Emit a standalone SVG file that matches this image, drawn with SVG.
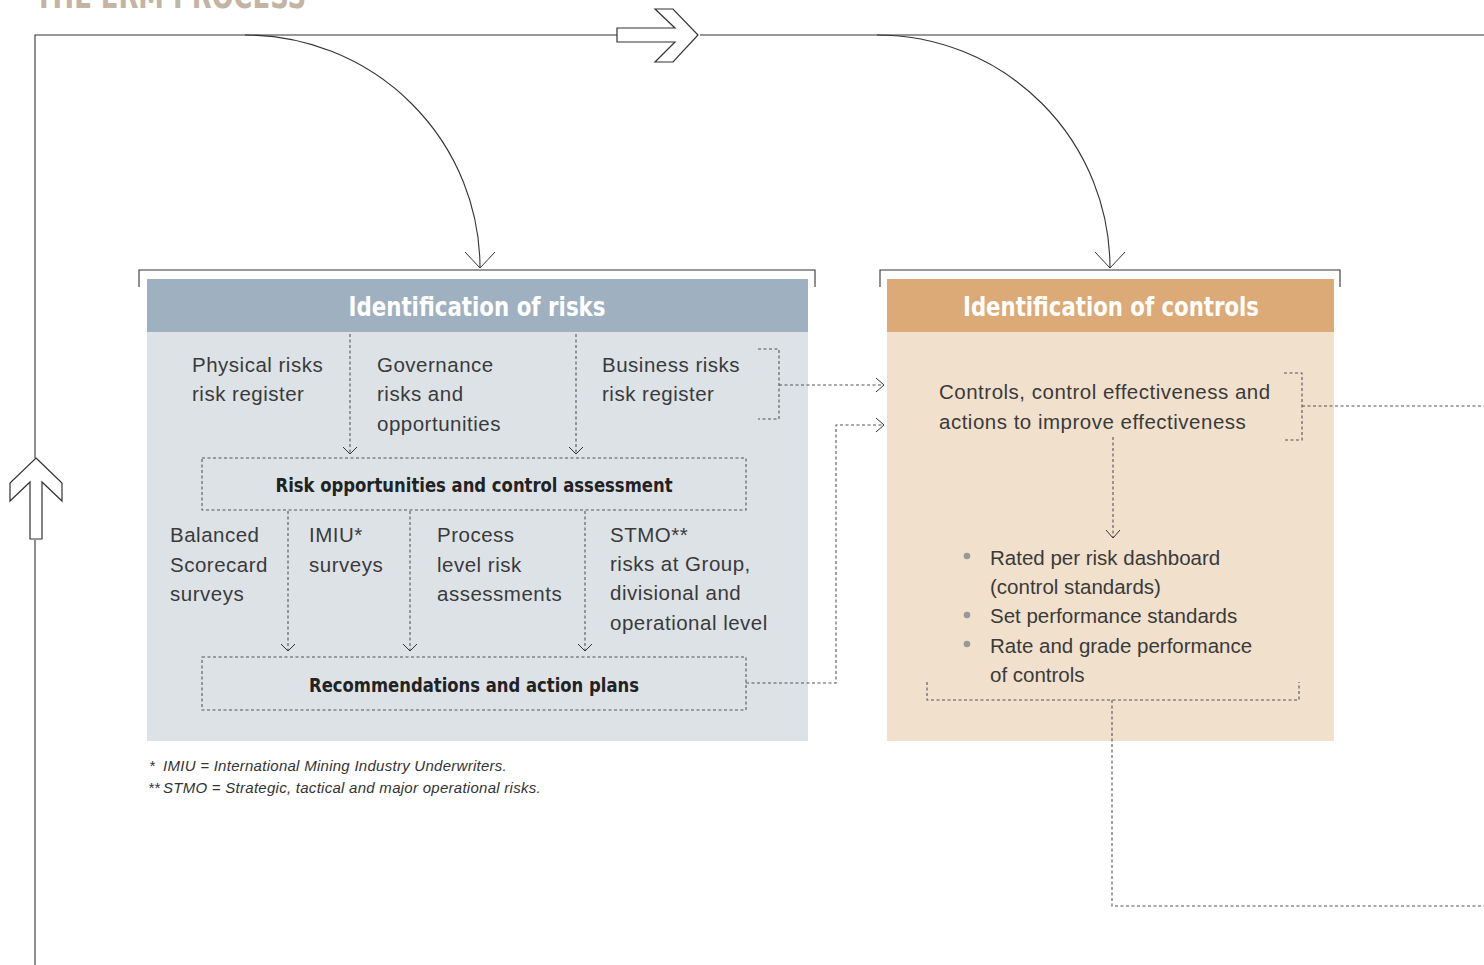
<svg xmlns="http://www.w3.org/2000/svg" width="1484" height="965" viewBox="0 0 1484 965">
<defs>
<style>
.ln{fill:none;stroke:#333;stroke-width:1.1}
.ds{fill:none;stroke:#555;stroke-width:1.1;stroke-dasharray:3 2.5}
.ah{fill:none;stroke:#333;stroke-width:1}
.big{fill:none;stroke:#333;stroke-width:1.2}
.hd{font-family:"DejaVu Sans Condensed","DejaVu Sans",sans-serif;font-weight:bold;fill:#fff;font-size:27px}
.bx{font-family:"DejaVu Sans Condensed","DejaVu Sans",sans-serif;font-weight:bold;fill:#222;font-size:20px}
.tx{font-family:"Liberation Sans",Arial,sans-serif;fill:#3a3a3a;font-size:20.5px;letter-spacing:0.5px}
.bl{font-family:"Liberation Sans",Arial,sans-serif;fill:#3a3a3a;font-size:20.5px;letter-spacing:0px}
.fn{font-family:"Liberation Sans",Arial,sans-serif;fill:#333;font-size:15px;font-style:italic;letter-spacing:0.27px}
</style>
</defs>
<rect width="1484" height="965" fill="#fff"/>
<text x="35" y="8" font-family="'DejaVu Sans Condensed','DejaVu Sans',sans-serif" font-weight="bold" font-size="36" fill="#c4b4a4" textLength="271" lengthAdjust="spacingAndGlyphs">THE ERM PROCESS</text>

<g id="risks">
<rect x="147" y="279" width="661" height="53" fill="#9fb1c1"/>
<rect x="147" y="332" width="661" height="409" fill="#dde2e7"/>
<text class="hd" x="477" y="316" text-anchor="middle" textLength="257" lengthAdjust="spacingAndGlyphs">Identification of risks</text>
<text class="tx" x="192" y="372">Physical risks</text>
<text class="tx" x="192" y="401">risk register</text>
<text class="tx" x="377" y="372">Governance</text>
<text class="tx" x="377" y="401">risks and</text>
<text class="tx" x="377" y="431">opportunities</text>
<text class="tx" x="602" y="372">Business risks</text>
<text class="tx" x="602" y="401">risk register</text>
<path class="ds" d="M350,334 V454 M576,334 V454"/>
<path class="ah" d="M343,447 L350,454 L357,447 M569,447 L576,454 L583,447"/>
<path class="ds" d="M758,349 H779 V419 H758"/>
<rect class="ds" x="202" y="458" width="544" height="52"/>
<text class="bx" x="474" y="492" text-anchor="middle" textLength="397" lengthAdjust="spacingAndGlyphs">Risk opportunities and control assessment</text>
<text class="tx" x="170" y="542">Balanced</text>
<text class="tx" x="170" y="572">Scorecard</text>
<text class="tx" x="170" y="601">surveys</text>
<text class="tx" x="309" y="542">IMIU*</text>
<text class="tx" x="309" y="572">surveys</text>
<text class="tx" x="437" y="542">Process</text>
<text class="tx" x="437" y="572">level risk</text>
<text class="tx" x="437" y="601">assessments</text>
<text class="tx" x="610" y="542">STMO**</text>
<text class="tx" x="610" y="571">risks at Group,</text>
<text class="tx" x="610" y="600">divisional and</text>
<text class="tx" x="610" y="630">operational level</text>
<path class="ds" d="M288,511 V651 M410,511 V651 M585,511 V651"/>
<path class="ah" d="M281,644 L288,651 L295,644 M403,644 L410,651 L417,644 M578,644 L585,651 L592,644"/>
<rect class="ds" x="202" y="657" width="544" height="53"/>
<text class="bx" x="474" y="692" text-anchor="middle" textLength="330" lengthAdjust="spacingAndGlyphs">Recommendations and action plans</text>
</g>

<g id="controls">
<rect x="887" y="279" width="447" height="53" fill="#dcaa76"/>
<rect x="887" y="332" width="447" height="409" fill="#f1e0cc"/>
<text class="hd" x="1111" y="316" text-anchor="middle" textLength="296" lengthAdjust="spacingAndGlyphs">Identification of controls</text>
<text class="tx" x="939" y="399">Controls, control effectiveness and</text>
<text class="tx" x="939" y="429">actions to improve effectiveness</text>
<path class="ds" d="M1284,373 H1302 V440 H1284"/>
<path class="ds" d="M1113,437 V537"/>
<path class="ah" d="M1106,530 L1113,538 L1120,530"/>
<circle cx="967" cy="556" r="3.3" fill="#999"/>
<circle cx="967" cy="615" r="3.3" fill="#999"/>
<circle cx="967" cy="644" r="3.3" fill="#999"/>
<text class="bl" x="990" y="565">Rated per risk dashboard</text>
<text class="bl" x="990" y="594">(control standards)</text>
<text class="bl" x="990" y="623">Set performance standards</text>
<text class="bl" x="990" y="653">Rate and grade performance</text>
<text class="bl" x="990" y="682">of controls</text>
<path class="ds" d="M927,682 V700 H1299 V682"/>
</g>

<g id="connectors">
<path class="ln" d="M35,965 V540 M35,458 V35 H617 M700,35 H1484"/>
<polygon class="big" fill="#fff" points="617,28 675,28 655,9 673,9 698,35 673,62 655,62 675,42 617,42"/>
<polygon class="big" fill="#fff" points="36,458 62,483 62,501 42,482 42,539 30,539 30,482 10,501 10,483"/>
<path class="ln" d="M245,35 A235,233 0 0 1 480,268"/>
<path class="ah" d="M465,252 L480,268 L495,252"/>
<path class="ln" d="M877,35 A233,233 0 0 1 1110,268"/>
<path class="ah" d="M1095,252 L1110,268 L1125,252"/>
<path class="ln" d="M139,287 V270 H815 V287"/>
<path class="ln" d="M880,287 V270 H1340 V287"/>
<path class="ds" d="M779,385 H883"/>
<path class="ah" d="M876,378 L884,385 L876,392"/>
<path class="ds" d="M746,683 H836 V425 H883"/>
<path class="ah" d="M876,418 L884,425 L876,432"/>
<path class="ds" d="M1302,406 H1484"/>
<path class="ds" d="M1112,700 V906 H1484"/>
</g>

<g id="footnotes">
<text class="fn" x="149" y="771">*</text>
<text class="fn" x="163" y="771">IMIU = International Mining Industry Underwriters.</text>
<text class="fn" x="148" y="793">**</text>
<text class="fn" x="163" y="793">STMO = Strategic, tactical and major operational risks.</text>
</g>
</svg>
